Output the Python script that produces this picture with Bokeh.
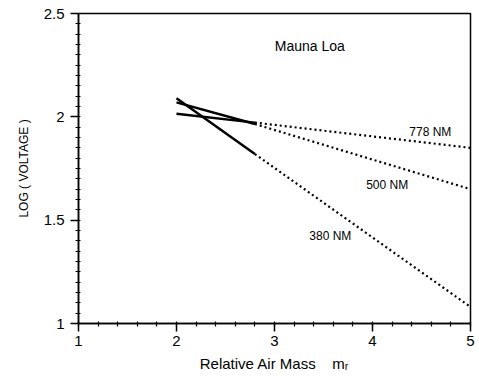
import numpy as np
from bokeh.plotting import figure
from bokeh.models import FixedTicker, Label, Range1d
from bokeh.embed import file_html
from bokeh.resources import INLINE

# ---- data ----
air_mass = [2.0, 2.8, 5.0]          # solid (measured) segment 2.0-2.8, dotted extrapolation to 5
log_v_778 = [2.015, 1.972, 1.85]
log_v_500 = [2.07, 1.965, 1.65]
log_v_380 = [2.09, 1.82, 1.08]
series_names = ["778 NM", "500 NM", "380 NM"]
label_pos_x = [4.59, 4.15, 3.57]
label_pos_y = [1.927, 1.671, 1.424]
x_ticks = [1, 2, 3, 4, 5]
y_ticks = [1.0, 1.5, 2.0, 2.5]
y_tick_labels = {1.0: "1", 1.5: "1.5", 2.0: "2", 2.5: "2.5"}
title_text = "Mauna Loa"

FONT = "Liberation Sans"

p = figure(width=478, height=374, output_backend="svg", toolbar_location=None,
           x_range=Range1d(1, 5), y_range=Range1d(1, 2.5),
           min_border_left=78, min_border_right=8, min_border_top=13, min_border_bottom=51)
p.background_fill_color = "white"
p.border_fill_color = "white"
p.outline_line_color = "black"
p.outline_line_width = 1.5
p.xgrid.visible = False
p.ygrid.visible = False

# axes
xminor = list(np.round(np.arange(1, 5.0001, 0.2), 3))
yminor = list(np.round(np.arange(1, 2.5001, 0.05), 3))
p.xaxis.ticker = FixedTicker(ticks=x_ticks, minor_ticks=xminor)
p.yaxis.ticker = FixedTicker(ticks=y_ticks, minor_ticks=yminor)
p.yaxis.major_label_overrides = y_tick_labels

for ax in (p.xaxis[0], p.yaxis[0]):
    ax.axis_line_color = "black"
    ax.axis_line_width = 1.5
    ax.major_tick_line_color = "black"
    ax.major_tick_line_width = 1.5
    ax.minor_tick_line_color = "black"
    ax.minor_tick_line_width = 1.2
    ax.major_tick_in = 0
    ax.major_tick_out = 8
    ax.minor_tick_in = 2
    ax.minor_tick_out = 3
    ax.major_label_text_font = FONT
    ax.major_label_text_font_size = "15px"
    ax.major_label_text_color = "black"
    ax.axis_label_text_font = FONT
    ax.axis_label_text_font_style = "normal"
    ax.axis_label_text_color = "black"

p.xaxis.major_label_standoff = 4
p.xaxis.axis_label = "Relative Air Mass\u00a0\u00a0\u00a0\u00a0m\u1d63"
p.xaxis.axis_label_text_font_size = "15px"
p.xaxis.axis_label_standoff = 6
p.yaxis.major_label_standoff = 6
p.yaxis.axis_label = "LOG ( VOLTAGE )"
p.yaxis.axis_label_text_font_size = "12px"
p.yaxis.axis_label_standoff = 10

# lines: solid measured part, dotted extrapolation
for vals in (log_v_778, log_v_500, log_v_380):
    p.line(air_mass[:2], vals[:2], line_color="black", line_width=2.5)
    p.line(air_mass[1:], vals[1:], line_color="black", line_width=2.2, line_dash="2 3")

for name, lx, ly in zip(series_names, label_pos_x, label_pos_y):
    p.add_layout(Label(x=lx, y=ly, text=name, text_font=FONT, text_font_size="12px",
                       text_align="center", text_baseline="middle", text_color="black"))

p.add_layout(Label(x=3.36, y=2.345, text=title_text, text_font=FONT, text_font_size="14px",
                   text_align="center", text_baseline="middle", text_color="black"))

open("out.html", "w").write(file_html(p, INLINE))
